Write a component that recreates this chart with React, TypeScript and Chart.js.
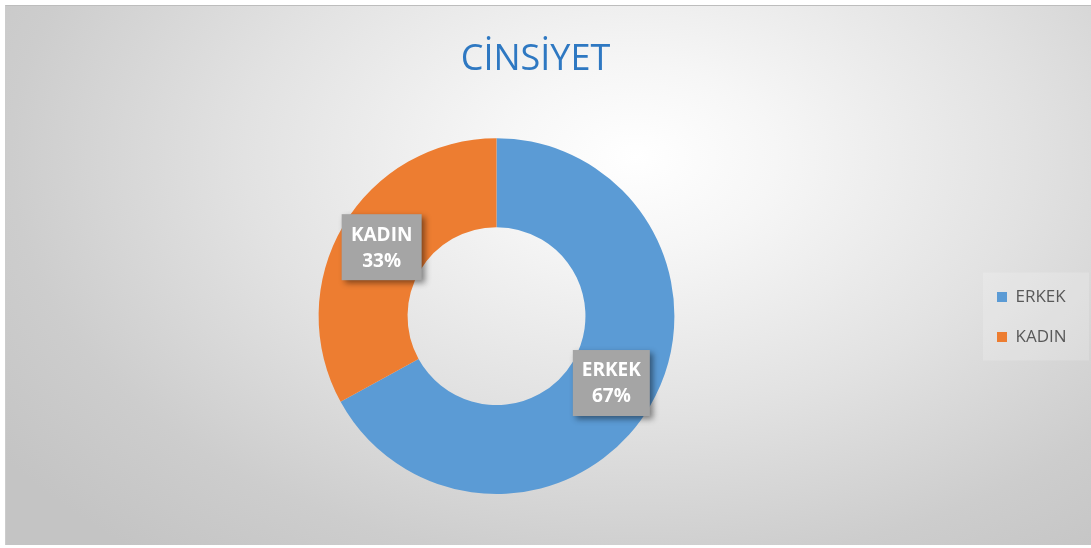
import React, { useEffect, useRef } from "react";
import { Chart, registerables } from "chart.js";

Chart.register(...registerables);

const categories = ["ERKEK", "KADIN"];
const values = [67, 33];
const percentLabels = ["67%", "33%"];
const sliceColors = ["#5B9BD5", "#ED7D31"];
const titleText = "CİNSİYET";

const FONT = "'Open Sans', 'Noto Sans', sans-serif";

// legend layout tweaks (px)
const LEGEND_LAYOUT_WIDTH = 78;
const LEGEND_DX = -13;
const LEGEND_DY = 67;

const legendShiftPlugin = {
  id: "legendShift",
  beforeLayout(chart: any) {
    const lg = chart.legend;
    if (!lg || lg._patchedFit) return;
    const origFit = lg.fit.bind(lg);
    lg.fit = function () {
      origFit();
      this._fullWidth = this.width;
      this.width = Math.min(this.width, LEGEND_LAYOUT_WIDTH);
    };
    lg._patchedFit = true;
  },
  afterLayout(chart: any) {
    const lg = chart.legend;
    if (!lg) return;
    lg.left += LEGEND_DX;
    if (lg._fullWidth) lg.width = lg._fullWidth;
    lg.right = lg.left + lg.width;
    lg.top += LEGEND_DY;
    lg.bottom += LEGEND_DY;
  },
  beforeDraw(chart: any) {
    const lg = chart.legend;
    if (!lg || !lg.legendHitBoxes || !lg.legendHitBoxes.length) return;
    const pad = lg.options.labels.padding;
    const ctx = chart.ctx;
    const x0 = lg.left + pad - 14;
    const colH = lg.columnSizes[0].height;
    const y0 = (lg.top + pad + lg.bottom - colH) / 2 - 16;
    ctx.save();
    ctx.fillStyle = "rgba(255,255,255,0.18)";
    ctx.fillRect(x0, y0, chart.width - x0 - 2, colH + 8);
    ctx.restore();
  },
};

const boxLabelPlugin = {
  id: "boxLabels",
  afterDatasetsDraw(chart: any) {
    const ctx = chart.ctx;
    const meta = chart.getDatasetMeta(0);
    meta.data.forEach((arc: any, i: number) => {
      const { x, y } = arc.tooltipPosition();
      const lines = [categories[i], percentLabels[i]];
      ctx.save();
      ctx.font = `bold 19px ${FONT}`;
      const tw = Math.max(...lines.map((l) => ctx.measureText(l).width));
      const w = Math.round(tw + 18);
      const h = 66;
      ctx.shadowColor = "rgba(0,0,0,0.45)";
      ctx.shadowBlur = 6;
      ctx.shadowOffsetX = 3;
      ctx.shadowOffsetY = 3;
      ctx.fillStyle = "#A5A5A5";
      ctx.fillRect(x - w / 2, y - h / 2 - 1, w, h);
      ctx.restore();
      ctx.save();
      ctx.font = `bold 19px ${FONT}`;
      ctx.fillStyle = "#FFFFFF";
      ctx.textAlign = "center";
      ctx.textBaseline = "middle";
      ctx.fillText(lines[0], x, y - 13);
      ctx.fillText(lines[1], x, y + 13);
      ctx.restore();
    });
  },
};

export default function App() {
  const canvasRef = useRef<HTMLCanvasElement | null>(null);

  useEffect(() => {
    document.body.style.margin = "0";
    const canvas = canvasRef.current;
    if (!canvas) return;
    const chart = new Chart(canvas, {
      type: "doughnut",
      data: {
        labels: categories,
        datasets: [
          {
            data: values,
            backgroundColor: sliceColors,
            borderWidth: 0,
            hoverOffset: 0,
            offset: 0,
          },
        ],
      },
      options: {
        animation: false,
        responsive: true,
        maintainAspectRatio: false,
        cutout: "50%",
        layout: { padding: { left: 0, right: 26, top: 0, bottom: 51 } },
        plugins: {
          title: {
            display: true,
            text: titleText,
            color: "#2E78C2",
            font: { family: FONT, size: 36, weight: "normal", lineHeight: 1.2 },
            padding: { top: 32, bottom: 57 },
          },
          legend: {
            position: "right",
            labels: {
              boxWidth: 10,
              boxHeight: 10,
              padding: 23,
              color: "#595959",
              font: { family: FONT, size: 17 },
            },
          },
          tooltip: { enabled: false },
        },
      } as any,
      plugins: [legendShiftPlugin, boxLabelPlugin],
    });
    return () => chart.destroy();
  }, []);

  return (
    <div
      style={{
        position: "absolute",
        left: 5,
        top: 5,
        width: 1086,
        height: 540,
        boxSizing: "border-box",
        borderTop: "1px solid #bdbdbd",
        borderLeft: "1px solid #cccccc",
        background:
          "radial-gradient(ellipse 72% 95% at 58% 28%, #ffffff 0%, #f6f6f6 18%, #e2e2e2 50%, #cdcdcd 80%, #c4c4c4 100%)",
      }}
    >
      <canvas ref={canvasRef} />
    </div>
  );
}
